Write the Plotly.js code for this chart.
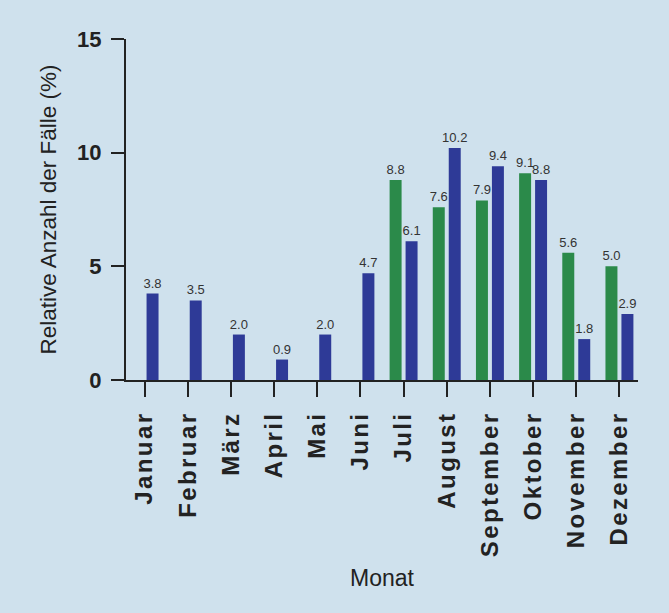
<!DOCTYPE html>
<html>
<head>
<meta charset="utf-8">
<script src="https://cdn.plot.ly/plotly-3.0.1.min.js"></script>
<style>
html,body{margin:0;padding:0;background:#cfe1ed;}
#chart{width:669px;height:613px;}
.xtick text{letter-spacing:2.4px;}
</style>
</head>
<body>
<div id="chart"></div>
<script>
const months = ["Januar","Februar","März","April","Mai","Juni","Juli","August","September","Oktober","November","Dezember"];
const greenValues = [null,null,null,null,null,null,8.8,7.6,7.9,9.1,5.6,5.0];
const blueValues = [3.8,3.5,2.0,0.9,2.0,4.7,6.1,10.2,9.4,8.8,1.8,2.9];
const yTicks = [0,5,10,15];

function labels(arr){return arr.map(v => v === null ? "" : v.toFixed(1));}

const traces = [
  {type:"bar", x:months, y:greenValues, marker:{color:"#2b8a4a", line:{width:0}},
   text:labels(greenValues), textposition:"outside", cliponaxis:false, constraintext:"none",
   textfont:{family:"Liberation Sans, Arial, sans-serif", size:13, color:"#333"}, hoverinfo:"none"},
  {type:"bar", x:months, y:blueValues, marker:{color:"#2e3a97", line:{width:0}},
   text:labels(blueValues), textposition:"outside", cliponaxis:false, constraintext:"none",
   textfont:{family:"Liberation Sans, Arial, sans-serif", size:13, color:"#333"}, hoverinfo:"none"}
];

const layout = {
  width:669, height:613,
  paper_bgcolor:"#cfe1ed", plot_bgcolor:"#cfe1ed",
  margin:{l:126, r:31, t:39, b:233},
  showlegend:false,
  barmode:"group", bargap:0.26, bargroupgap:0.25,
  font:{family:"Liberation Sans, Arial, sans-serif", color:"#222"},
  xaxis:{
    type:"category", range:[-0.43, 11.43],
    showline:true, linecolor:"#222", linewidth:2,
    ticks:"outside", ticklen:15, tickwidth:2, tickcolor:"#222",
    tickangle:-90, ticklabelstandoff:5,
    tickfont:{family:"Liberation Sans, Arial, sans-serif", size:24, color:"#222", weight:"bold"},
    showgrid:false, zeroline:false, fixedrange:true,
    title:{text:"Monat", font:{size:23, color:"#222"}, standoff:14}
  },
  yaxis:{
    range:[0,15], tickvals:yTicks, ticktext:yTicks.map(String),
    showline:true, linecolor:"#222", linewidth:2,
    ticks:"outside", ticklen:13, tickwidth:2, tickcolor:"#222",
    ticklabelstandoff:5,
    tickfont:{family:"Liberation Sans, Arial, sans-serif", size:22, color:"#222", weight:"bold"},
    showgrid:false, zeroline:false, fixedrange:true,
    title:{text:"Relative Anzahl der Fälle (%)", font:{size:22.5, color:"#222"}, standoff:14}
  }
};

Plotly.newPlot("chart", traces, layout, {displayModeBar:false, staticPlot:true});
</script>
</body>
</html>
